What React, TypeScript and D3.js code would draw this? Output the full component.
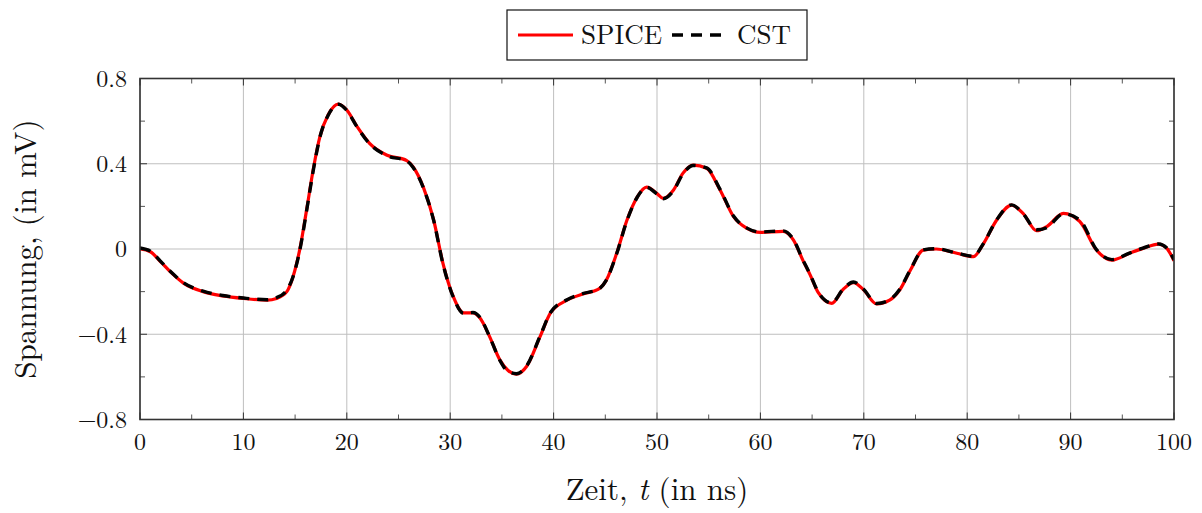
import React from "react";
import * as d3 from "d3";

// ---- data ----
const spiceT = [0, 1, 2, 3, 4.2, 6.1, 8, 10, 12.3, 13.2, 14.2, 14.8, 15.5, 16.1, 16.8, 17.4, 18.2, 19.2, 20.0, 21.0, 22.2, 23.9, 25.8, 26.4, 27.4, 28.4, 29.3, 30.3, 31.3, 32.2, 32.9, 33.8, 34.8, 35.6, 36.4, 37.4, 38.7, 39.7, 41.3, 42.9, 44.3, 45.1, 46.1, 47.1, 48.1, 49.0, 50.0, 50.6, 51.6, 52.5, 53.5, 54.8, 56.1, 57.4, 58.7, 60.0, 62.2, 63.2, 64.1, 64.8, 65.6, 66.9, 68.0, 69.0, 69.95, 71.25, 72.5, 73.5, 74.5, 75.75, 77.0, 79.0, 80.6, 81.6, 82.85, 84.3, 85.4, 86.7, 87.7, 89.3, 90.9, 92.5, 94.0, 95.7, 97.0, 98.5, 99.3, 100];
const spiceV = [0, -0.013, -0.06, -0.11, -0.16, -0.2, -0.22, -0.232, -0.24, -0.232, -0.2, -0.13, 0.01, 0.18, 0.386, 0.527, 0.63, 0.68, 0.652, 0.574, 0.496, 0.44, 0.415, 0.386, 0.29, 0.136, -0.067, -0.224, -0.3, -0.3, -0.325, -0.41, -0.52, -0.57, -0.587, -0.55, -0.41, -0.3, -0.24, -0.21, -0.19, -0.146, -0.02, 0.136, 0.245, 0.29, 0.26, 0.238, 0.277, 0.355, 0.394, 0.379, 0.277, 0.152, 0.097, 0.078, 0.083, 0.042, -0.052, -0.12, -0.205, -0.255, -0.19, -0.158, -0.19, -0.258, -0.24, -0.19, -0.1, -0.005, 0, -0.02, -0.036, 0.027, 0.136, 0.206, 0.167, 0.086, 0.105, 0.167, 0.128, -0.005, -0.052, -0.02, 0.003, 0.023, 0.003, -0.055];

const cstT = [0, 1, 2, 3, 4.2, 6.1, 8, 10, 12.3, 13.2, 14.0, 14.8, 15.5, 16.1, 16.8, 17.4, 18.2, 19.2, 20.0, 21.0, 22.2, 23.9, 25.8, 26.4, 27.4, 28.4, 29.3, 30.3, 31.3, 32.2, 32.9, 33.8, 34.8, 35.6, 36.4, 37.4, 38.7, 39.7, 41.3, 42.9, 44.3, 45.1, 46.1, 47.1, 48.1, 49.0, 50.0, 50.6, 51.6, 52.5, 53.5, 54.8, 56.1, 57.4, 58.7, 60.0, 62.2, 63.2, 64.1, 64.8, 65.6, 66.9, 68.0, 69.0, 69.95, 71.25, 72.5, 73.5, 74.5, 75.75, 77.0, 79.0, 80.6, 81.6, 82.85, 84.3, 85.4, 86.7, 87.7, 89.3, 90.9, 92.5, 94.0, 95.7, 97.0, 98.5, 99.3, 100];
const cstV = [0.005, -0.01, -0.058, -0.108, -0.158, -0.198, -0.218, -0.23, -0.238, -0.228, -0.205, -0.13, 0.005, 0.175, 0.38, 0.525, 0.628, 0.679, 0.65, 0.572, 0.494, 0.438, 0.413, 0.384, 0.288, 0.134, -0.07, -0.226, -0.302, -0.298, -0.322, -0.41, -0.522, -0.575, -0.585, -0.548, -0.408, -0.298, -0.238, -0.208, -0.19, -0.146, -0.022, 0.134, 0.244, 0.289, 0.258, 0.236, 0.274, 0.352, 0.392, 0.381, 0.28, 0.155, 0.098, 0.08, 0.085, 0.044, -0.05, -0.118, -0.203, -0.253, -0.188, -0.155, -0.188, -0.256, -0.238, -0.188, -0.098, -0.004, 0.001, -0.019, -0.034, 0.028, 0.137, 0.207, 0.166, 0.09, 0.1, 0.165, 0.135, -0.003, -0.05, -0.019, 0.004, 0.024, 0.005, -0.05];

const xMajor = [0, 10, 20, 30, 40, 50, 60, 70, 80, 90, 100];
const xMinor = [5, 15, 25, 35, 45, 55, 65, 75, 85, 95];
const yMajor = [-0.8, -0.4, 0, 0.4, 0.8];
const yMinor = [-0.6, -0.2, 0.2, 0.6];

const W = 1202, H = 513;
const L = 140, R = 1174, T = 78.5, B = 419.5;
const FONT = "'Latin Modern Roman','CMU Serif','Liberation Serif','DejaVu Serif',serif";

export default function App() {
  const x = d3.scaleLinear().domain([0, 100]).range([L, R]);
  const y = d3.scaleLinear().domain([-0.8, 0.8]).range([B, T]);
  const line = d3
    .line<[number, number]>()
    .x((d) => x(d[0]))
    .y((d) => y(d[1]))
    .curve(d3.curveMonotoneX);
  const spice = line(spiceT.map((t, i) => [t, spiceV[i]] as [number, number])) || "";
  const cst = line(cstT.map((t, i) => [t, cstV[i]] as [number, number])) || "";
  const fmt = (v: number) => (v < 0 ? "\u2212" : "") + (v === 0 ? "0" : String(Math.abs(v)));

  return (
    <svg width={W} height={H} style={{ position: "absolute", left: 0, top: 0, background: "#fff" }} fontFamily={FONT}>
      <defs>
        <clipPath id="clip">
          <rect x={L} y={T} width={R - L} height={B - T} />
        </clipPath>
      </defs>
      {/* grid */}
      {xMajor.map((v) => (
        <line key={"gx" + v} x1={x(v)} x2={x(v)} y1={T} y2={B} stroke="#bfbfbf" strokeWidth={1} />
      ))}
      {yMajor.map((v) => (
        <line key={"gy" + v} x1={L} x2={R} y1={y(v)} y2={y(v)} stroke="#bfbfbf" strokeWidth={1} />
      ))}
      {/* ticks */}
      {xMajor.map((v) => (
        <g key={"tx" + v} stroke="#333" strokeWidth={1}>
          <line x1={x(v)} x2={x(v)} y1={B} y2={B - 7} />
          <line x1={x(v)} x2={x(v)} y1={T} y2={T + 7} />
        </g>
      ))}
      {xMinor.map((v) => (
        <g key={"mx" + v} stroke="#555" strokeWidth={1}>
          <line x1={x(v)} x2={x(v)} y1={B} y2={B - 5} />
          <line x1={x(v)} x2={x(v)} y1={T} y2={T + 5} />
        </g>
      ))}
      {yMajor.map((v) => (
        <g key={"ty" + v} stroke="#333" strokeWidth={1}>
          <line x1={L} x2={L + 7} y1={y(v)} y2={y(v)} />
          <line x1={R} x2={R - 7} y1={y(v)} y2={y(v)} />
        </g>
      ))}
      {yMinor.map((v) => (
        <g key={"my" + v} stroke="#555" strokeWidth={1}>
          <line x1={L} x2={L + 5} y1={y(v)} y2={y(v)} />
          <line x1={R} x2={R - 5} y1={y(v)} y2={y(v)} />
        </g>
      ))}
      {/* curves */}
      <g clipPath="url(#clip)" fill="none">
        <path d={spice} stroke="#ff0000" strokeWidth={3.2} strokeLinejoin="round" />
        <path d={cst} stroke="#000" strokeWidth={3.4} strokeDasharray="11 8" />
      </g>
      {/* frame */}
      <rect x={L} y={T} width={R - L} height={B - T} fill="none" stroke="#333" strokeWidth={1.6} />
      {/* tick labels */}
      {xMajor.map((v) => (
        <text key={"lx" + v} x={x(v)} y={450} textAnchor="middle" fontSize={24} fill="#111">
          {fmt(v)}
        </text>
      ))}
      {yMajor.map((v) => (
        <text key={"ly" + v} x={127} y={y(v)} dy="0.35em" textAnchor="end" fontSize={24} fill="#111">
          {fmt(v)}
        </text>
      ))}
      {/* axis labels */}
      <text x={(L + R) / 2} y={500} textAnchor="middle" fontSize={31} fill="#111">
        Zeit, <tspan fontStyle="italic">t</tspan> (in ns)
      </text>
      <text transform={`translate(36, ${(T + B) / 2}) rotate(-90)`} textAnchor="middle" fontSize={31} fill="#111">
        Spannung, (in mV)
      </text>
      {/* legend */}
      <rect x={507} y={10} width={300} height={50} fill="#fff" stroke="#111" strokeWidth={1.2} />
      <line x1={518} x2={573} y1={35} y2={35} stroke="#ff0000" strokeWidth={3.2} />
      <text x={581} y={44} fontSize={27} fill="#111">SPICE</text>
      <line x1={672} x2={721} y1={35} y2={35} stroke="#000" strokeWidth={3.4} strokeDasharray="11 8" />
      <text x={737} y={44} fontSize={27} fill="#111">CST</text>
    </svg>
  );
}
